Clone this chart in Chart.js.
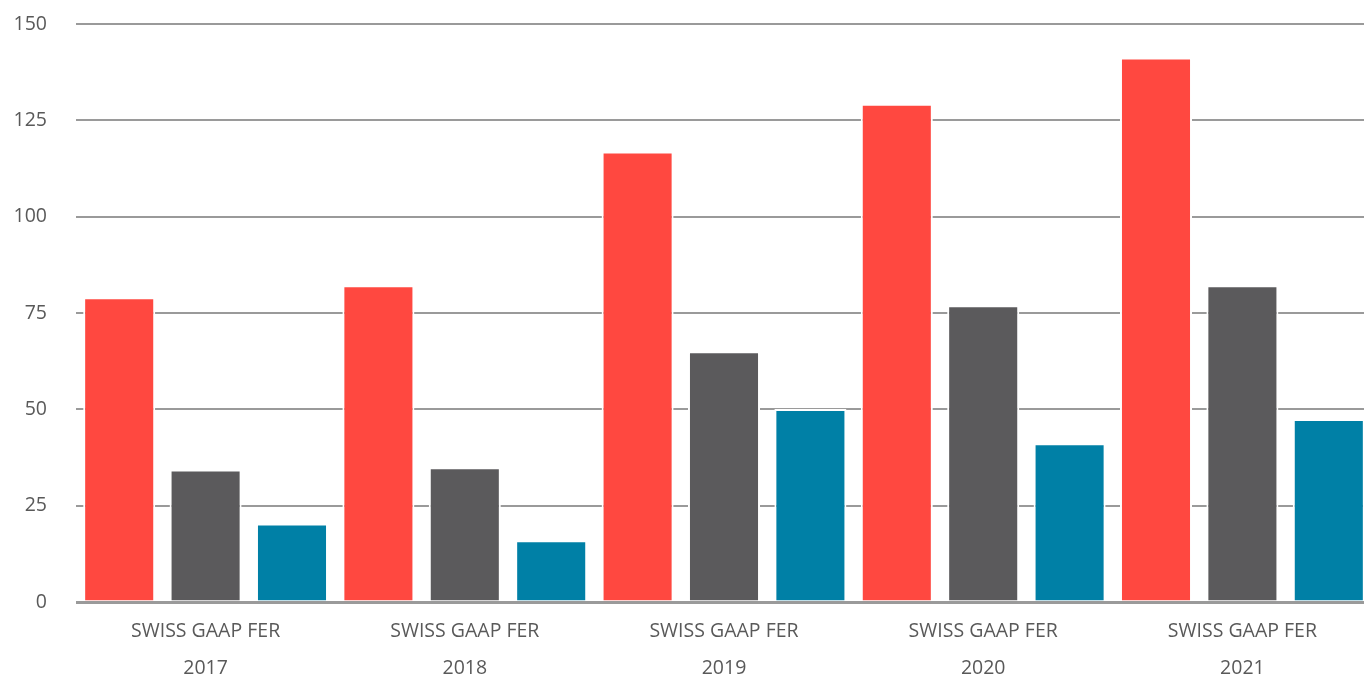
<!DOCTYPE html>
<html>
<head>
<meta charset="utf-8">
<script src="https://cdn.jsdelivr.net/npm/chart.js@4.4.1/dist/chart.umd.min.js"></script>
<style>
  html, body { margin: 0; padding: 0; background: #fff; overflow: hidden; }
  #wrap { position: relative; width: 1372px; height: 679px; }
</style>
</head>
<body>
<div id="wrap"><canvas id="chart"></canvas></div>
<script>
// Data
const categories = [
  ['SWISS GAAP FER', '2017'],
  ['SWISS GAAP FER', '2018'],
  ['SWISS GAAP FER', '2019'],
  ['SWISS GAAP FER', '2020'],
  ['SWISS GAAP FER', '2021'],
];
const seriesRed = [79.1, 82.2, 116.9, 129.3, 141.3];
const seriesGray = [34.4, 35.0, 65.1, 77.0, 82.2];
const seriesBlue = [20.4, 16.0, 50.1, 41.2, 47.5];
const yTicks = [0, 25, 50, 75, 100, 125, 150];

const textColor = '#595959';
const gridColor = '#9a9a9a';

const ctx = document.getElementById('chart').getContext('2d');
new Chart(ctx, {
  type: 'bar',
  data: {
    labels: categories,
    datasets: [
      { label: 'Serie 1', data: seriesRed, backgroundColor: '#ff4840' },
      { label: 'Serie 2', data: seriesGray, backgroundColor: '#5b5a5c' },
      { label: 'Serie 3', data: seriesBlue, backgroundColor: '#0080a6' },
    ].map((d) => ({
      ...d,
      borderColor: '#ffffff',
      borderWidth: 2,
      barPercentage: 0.834,
      categoryPercentage: 1,
    })),
  },
  options: {
    responsive: true,
    maintainAspectRatio: false,
    animation: false,
    layout: { padding: { top: 24, right: 0, bottom: 0, left: 0 } },
    plugins: {
      legend: { display: false },
      tooltip: { enabled: false },
    },
    scales: {
      x: {
        grid: { display: false, drawTicks: false },
        border: { display: false },
        ticks: {
          color: textColor,
          padding: 11,
          font: { family: 'Open Sans', size: 19.5, lineHeight: '37px' },
        },
        afterFit: (scale) => {
          scale.height = 77;
          scale.paddingLeft = 0;
          scale.paddingRight = 0;
        },
      },
      y: {
        min: 0,
        max: 150,
        afterBuildTicks: (scale) => { scale.ticks = yTicks.map((v) => ({ value: v })); },
        grid: {
          color: gridColor,
          lineWidth: (c) => (c.tick && c.tick.value === 0 ? 3 : 2),
          drawTicks: false,
        },
        border: { display: false },
        ticks: {
          color: textColor,
          padding: 29,
          font: { family: 'Open Sans', size: 19.5 },
        },
        afterFit: (scale) => {
          scale.width = 76;
          scale.paddingTop = 0;
          scale.paddingBottom = 0;
        },
      },
    },
  },
});
</script>
</body>
</html>
